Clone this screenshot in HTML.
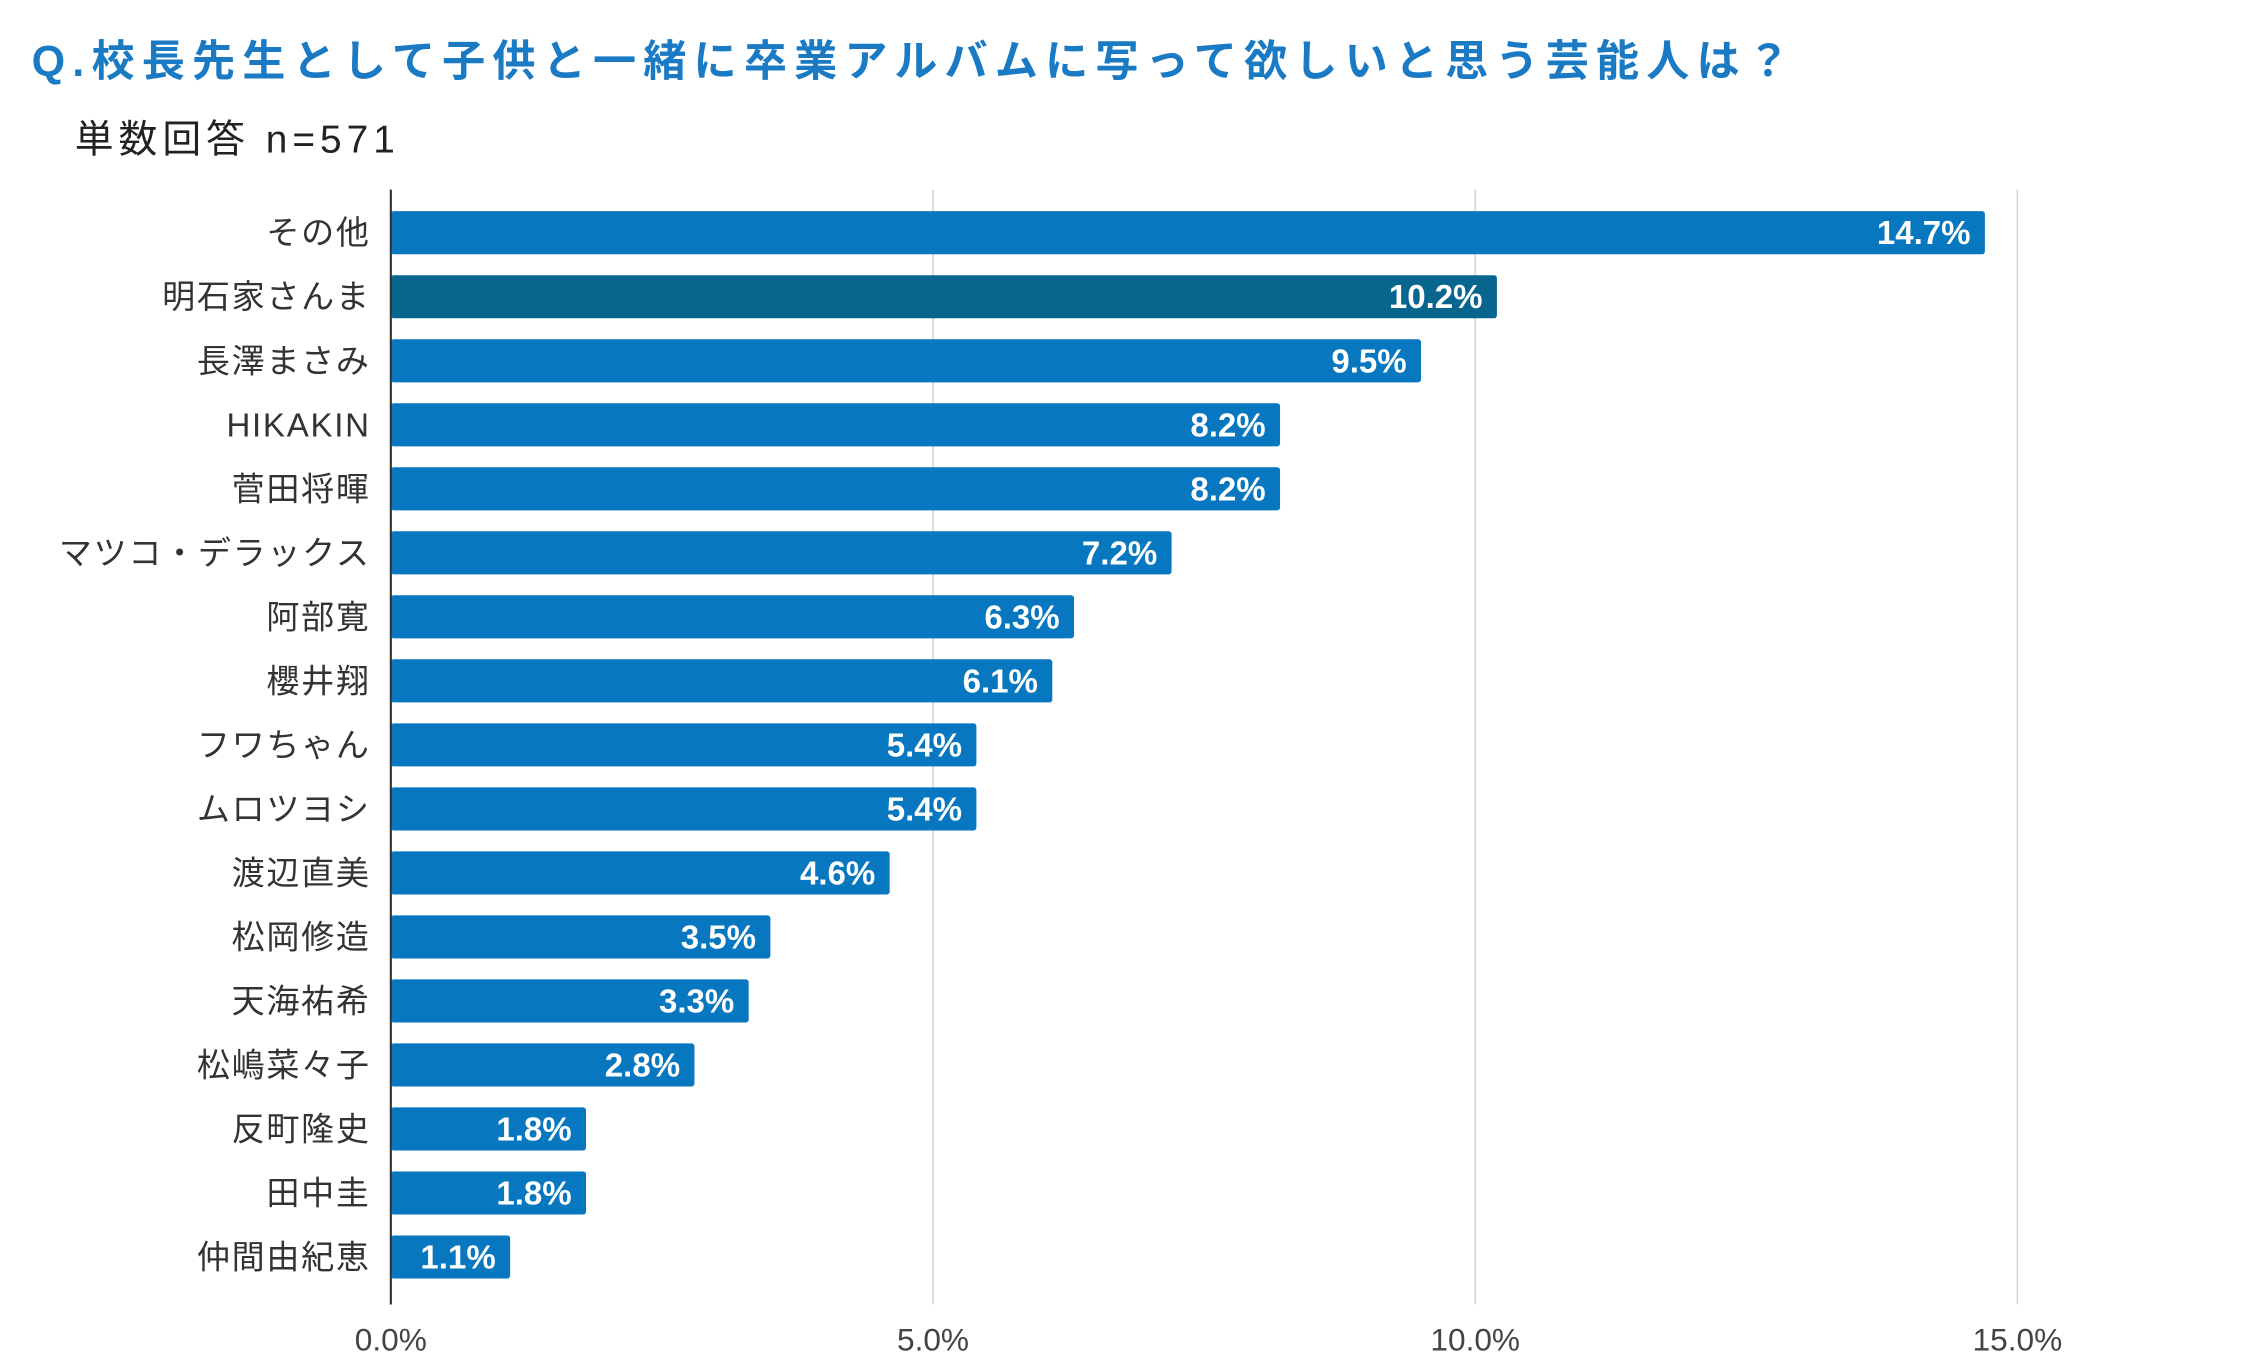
<!DOCTYPE html>
<html><head><meta charset="utf-8"><style>
html,body{margin:0;padding:0;background:#fff;}
svg{display:block;font-family:"Liberation Sans","Noto Sans CJK JP",sans-serif;}
</style></head><body>
<svg id="chart" width="2253" height="1372" viewBox="0 0 1568 955" preserveAspectRatio="none" xmlns="http://www.w3.org/2000/svg">
<text x="22" y="53" font-size="30" font-weight="bold" fill="#1a7ac4" letter-spacing="5">Q.校長先生として子供と一緒に卒業アルバムに写って欲しいと思う芸能人は？</text>
<text x="52" y="106" font-size="27" fill="#222" letter-spacing="3.5">単数回答 n=571</text>
<g id="grid"></g><g id="bars"></g><g id="labels"></g>
</svg>
<script>
const categories=["その他","明石家さんま","長澤まさみ","HIKAKIN","菅田将暉","マツコ・デラックス","阿部寛","櫻井翔","フワちゃん","ムロツヨシ","渡辺直美","松岡修造","天海祐希","松嶋菜々子","反町隆史","田中圭","仲間由紀恵"];
const values=[14.7,10.2,9.5,8.2,8.2,7.2,6.3,6.1,5.4,5.4,4.6,3.5,3.3,2.8,1.8,1.8,1.1];
const valueLabels=["14.7%","10.2%","9.5%","8.2%","8.2%","7.2%","6.3%","6.1%","5.4%","5.4%","4.6%","3.5%","3.3%","2.8%","1.8%","1.8%","1.1%"];
const ticks=[0,5,10,15];
const tickLabels=["0.0%","5.0%","10.0%","15.0%"];
const highlightIndex=1;
const NS="http://www.w3.org/2000/svg";
const x0=272,pxPer=75.47,yTop=132,yBot=908,firstC=162,step=44.56,bh=30;
const xs=v=>x0+v*pxPer, yc=i=>firstC+i*step;
function mk(t,a,p){const e=document.createElementNS(NS,t);for(const k in a)e.setAttribute(k,a[k]);p.appendChild(e);return e;}
const grid=document.getElementById('grid'),bars=document.getElementById('bars'),labels=document.getElementById('labels');
ticks.forEach((t,i)=>{
  if(t>0){const g=mk('line',{x1:xs(t),x2:xs(t),y1:yTop,y2:yBot,stroke:'#d0d0d0','stroke-width':1},grid);
  
  }
  const tl=mk('text',{x:xs(t),y:940,'font-size':22,fill:'#444','text-anchor':'middle'},labels);
  tl.textContent=tickLabels[i];
  
  
});
categories.forEach((c,i)=>{
  const r=mk('rect',{x:x0,y:yc(i)-bh/2,width:xs(values[i])-x0,height:bh,rx:2,fill:i===highlightIndex?'#08668e':'#0777c0'},bars);
  
  
  const cl=mk('text',{x:258,y:yc(i)+8,'font-size':23,fill:'#333','text-anchor':'end','letter-spacing':1.2},labels);
  cl.textContent=c;
  
  
  const vl=mk('text',{x:xs(values[i])-10,y:yc(i)+8,'font-size':23,'font-weight':'bold',fill:'#fff','text-anchor':'end'},labels);
  vl.textContent=valueLabels[i];
  
  
});
const ax=mk('line',{x1:x0,x2:x0,y1:yTop,y2:yBot,stroke:'#333','stroke-width':1.5},labels);


</script>
</body></html>
